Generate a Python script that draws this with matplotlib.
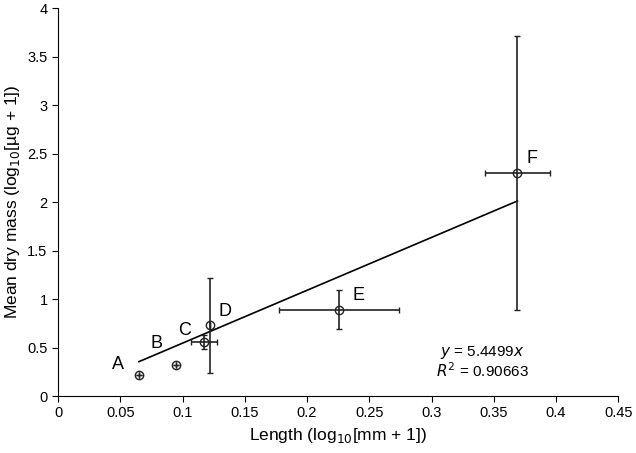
import matplotlib
matplotlib.use("Agg")
import matplotlib.pyplot as plt
import numpy as np

plt.rcParams['font.family'] = ['Liberation Sans', 'DejaVu Sans']

labels = ["A", "B", "C", "D", "E", "F"]
length = [0.065, 0.095, 0.117, 0.122, 0.2255, 0.369]
mass = [0.216, 0.32, 0.557, 0.73, 0.89, 2.30]
length_err = [0.0, 0.0, 0.0105, 0.0, 0.048, 0.026]
mass_err = [0.0, 0.0, 0.07, 0.49, 0.2, 1.41]
slope = 5.4499
r2 = 0.90663
label_pos = [(0.048, 0.33), (0.079, 0.54), (0.102, 0.68), (0.134, 0.87), (0.241, 1.04), (0.381, 2.45)]

fig = plt.figure(figsize=(6.36, 4.53), dpi=100)
ax = fig.add_axes([0.0912, 0.1258, 0.881, 0.8565])

ax.errorbar(length, mass, xerr=length_err, yerr=mass_err, fmt='o', ms=6,
            mfc='none', mec='#222222', mew=1.0, ecolor='#222222', elinewidth=1.2,
            capsize=2, capthick=1.2, zorder=3)

xfit = np.array([min(length), max(length)])
ax.plot(xfit, slope * xfit, color='black', lw=1.2, zorder=2)

for lab, (lx, ly) in zip(labels, label_pos):
    ax.text(lx, ly, lab, fontsize=13, ha='center', va='center')

ax.text(0.341, 0.35, "$y$ = 5.4499$x$\n$R^2$ = 0.90663", fontsize=11,
        ha='center', va='center', linespacing=1.0)

ax.set_xlim(0, 0.45)
ax.set_ylim(0, 4)
ax.set_xticks(np.arange(0, 0.451, 0.05))
ax.set_xticklabels(["0", "0.05", "0.1", "0.15", "0.2", "0.25", "0.3", "0.35", "0.4", "0.45"])
ax.set_yticks(np.arange(0, 4.01, 0.5))
ax.set_yticklabels(["0", "0.5", "1", "1.5", "2", "2.5", "3", "3.5", "4"])
ax.spines['top'].set_visible(False)
ax.spines['right'].set_visible(False)
ax.tick_params(direction='out', length=4, labelsize=10.5)
ax.set_xlabel("Length (log$_{10}$[mm + 1])", fontsize=12.5)
ax.set_ylabel("Mean dry mass (log$_{10}$[µg + 1])", fontsize=12.5)

fig.savefig("out.png", dpi=100)
